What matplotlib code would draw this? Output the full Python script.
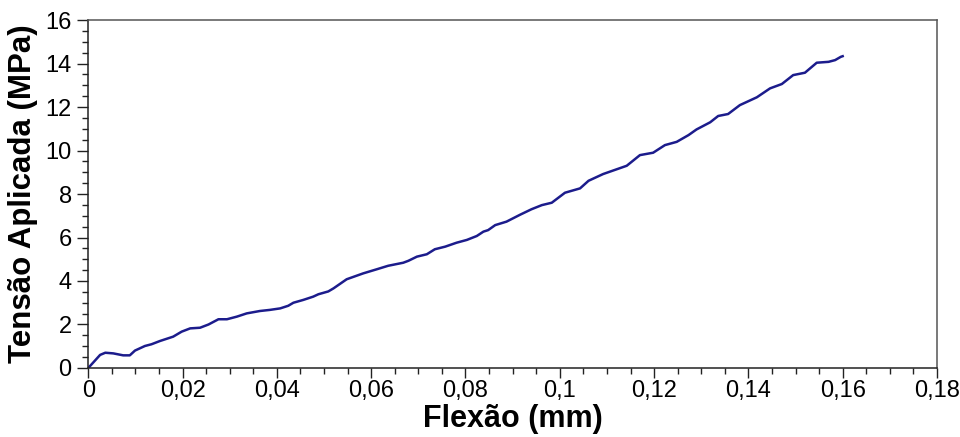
import matplotlib
matplotlib.use('Agg')
import matplotlib.pyplot as plt
from matplotlib.ticker import MultipleLocator, FuncFormatter

plt.rcParams['font.family'] = ['Liberation Sans', 'DejaVu Sans']

# curva: flexão (mm) x tensão (MPa)
flexao = [0.0, 0.0025, 0.0036, 0.0053, 0.0074, 0.0088, 0.0099, 0.012, 0.0134,
          0.0152, 0.018, 0.0198, 0.0216, 0.0237, 0.0255, 0.0276, 0.0294, 0.0315,
          0.0336, 0.0364, 0.0385, 0.0407, 0.0424, 0.0435, 0.0456, 0.0477, 0.0488,
          0.0509, 0.052, 0.0548, 0.0583, 0.0612, 0.0636, 0.0668, 0.0679, 0.0697,
          0.0718, 0.0735, 0.0757, 0.0781, 0.0803, 0.0824, 0.0838, 0.0848, 0.0863,
          0.0887, 0.0916, 0.094, 0.0962, 0.0983, 0.1011, 0.1043, 0.1061, 0.1092,
          0.1142, 0.117, 0.1198, 0.1223, 0.1248, 0.1273, 0.129, 0.1319, 0.1336,
          0.1357, 0.1382, 0.1418, 0.1446, 0.1471, 0.1495, 0.152, 0.1545, 0.157,
          0.1584, 0.1596, 0.16]
tensao = [0.0, 0.6, 0.70, 0.67, 0.58, 0.58, 0.8, 1.01, 1.09,
          1.24, 1.44, 1.67, 1.82, 1.85, 2.0, 2.24, 2.24, 2.36,
          2.51, 2.62, 2.67, 2.74, 2.86, 3.0, 3.13, 3.28, 3.39,
          3.52, 3.66, 4.08, 4.35, 4.54, 4.70, 4.84, 4.93, 5.12,
          5.23, 5.46, 5.58, 5.76, 5.89, 6.07, 6.27, 6.34, 6.57,
          6.73, 7.05, 7.30, 7.49, 7.60, 8.06, 8.26, 8.61, 8.92,
          9.30, 9.79, 9.90, 10.25, 10.40, 10.71, 10.97, 11.30, 11.59,
          11.68, 12.09, 12.45, 12.86, 13.06, 13.47, 13.58, 14.04, 14.08,
          14.16, 14.31, 14.34]

fig = plt.figure(figsize=(9.6, 4.37), dpi=100)
ax = fig.add_axes([0.092, 0.158, 0.884, 0.796])

ax.plot(flexao, tensao, color='#1c1c8c', linewidth=1.8)

ax.set_xlim(0, 0.18)
ax.set_ylim(0, 16)
ax.xaxis.set_major_locator(MultipleLocator(0.02))
ax.xaxis.set_minor_locator(MultipleLocator(0.005))
ax.yaxis.set_major_locator(MultipleLocator(2))
ax.yaxis.set_minor_locator(MultipleLocator(0.5))

virgula = FuncFormatter(lambda v, p: ('%g' % round(v, 4)).replace('.', ','))
ax.xaxis.set_major_formatter(virgula)
ax.yaxis.set_major_formatter(virgula)

ax.tick_params(axis='both', which='major', labelsize=17, direction='out',
               color='#222222', width=1)
ax.tick_params(axis='x', which='major', length=7, pad=2)
ax.tick_params(axis='x', which='minor', length=4, width=1, color='#222222')
ax.tick_params(axis='y', which='major', length=8, pad=4)
ax.tick_params(axis='y', which='minor', length=4, width=1, color='#222222')

for lado in ['left', 'bottom']:
    ax.spines[lado].set_color('#222222')
    ax.spines[lado].set_linewidth(1.1)
for lado in ['top', 'right']:
    ax.spines[lado].set_color('#555555')
    ax.spines[lado].set_linewidth(1.1)

ax.set_xlabel('Flexão (mm)', fontsize=22, fontweight='bold', labelpad=1)
ax.set_ylabel('Tensão Aplicada (MPa)', fontsize=22.5, fontweight='bold', labelpad=5)

fig.savefig('out.png', dpi=100)
